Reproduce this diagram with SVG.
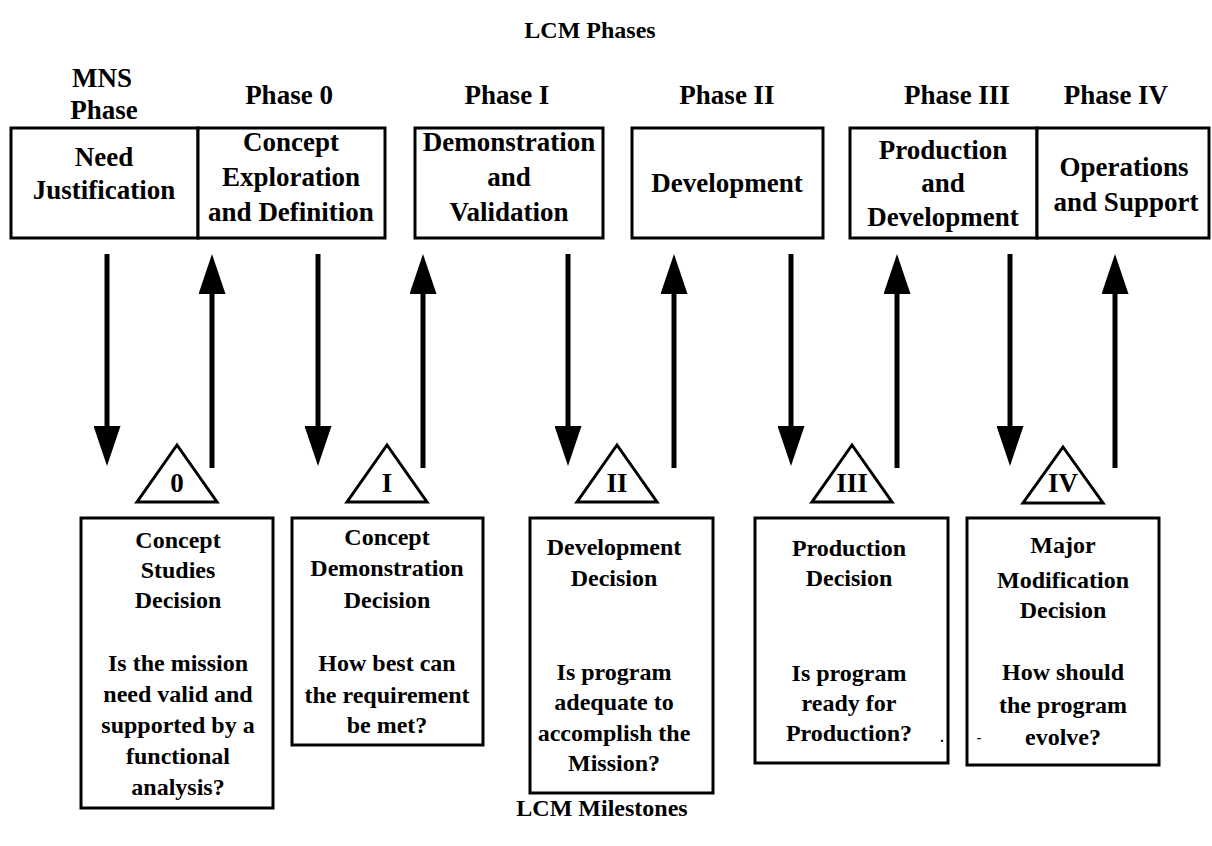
<svg xmlns="http://www.w3.org/2000/svg" width="1212" height="846" viewBox="0 0 1212 846">
<style>
text{font-family:"Liberation Serif","Times New Roman",serif;font-weight:bold;fill:#000;text-anchor:middle}
.lbl{font-size:27px}
.ttl{font-size:24px}
.sm{font-size:24px}
.num{font-size:27px}
.box{fill:#fff;stroke:#000;stroke-width:3}
.tri{fill:#fff;stroke:#000;stroke-width:3;stroke-linejoin:miter}
.ln{stroke:#000;stroke-width:5;fill:none}
</style>
<defs>
<marker id="ah" viewBox="0 0 40 27" refX="1" refY="13.5" markerWidth="40" markerHeight="27" markerUnits="userSpaceOnUse" orient="auto">
<path d="M0,0 L40,13.5 L0,27 Z" fill="#000"/>
</marker>
</defs>
<rect width="1212" height="846" fill="#fff"/>

<text class="ttl" x="590" y="38">LCM Phases</text>
<text class="ttl" x="602" y="816">LCM Milestones</text>

<g id="phase-labels">
<text class="lbl" x="102" y="87">MNS</text>
<text class="lbl" x="104" y="119">Phase</text>
<text class="lbl" x="289" y="104">Phase 0</text>
<text class="lbl" x="507" y="104">Phase I</text>
<text class="lbl" x="727" y="104">Phase II</text>
<text class="lbl" x="957" y="104">Phase III</text>
<text class="lbl" x="1116" y="104">Phase IV</text>
</g>

<g id="need-justification">
<rect class="box" x="11" y="128" width="187" height="110"/>
<text class="lbl" x="104" y="166">Need</text>
<text class="lbl" x="104" y="199">Justification</text>
</g>
<g id="concept-exploration">
<rect class="box" x="198" y="128" width="187" height="110"/>
<text class="lbl" x="291" y="151">Concept</text>
<text class="lbl" x="291" y="186">Exploration</text>
<text class="lbl" x="291" y="221">and Definition</text>
</g>
<g id="demonstration-validation">
<rect class="box" x="415" y="128" width="188" height="110"/>
<text class="lbl" x="509" y="151">Demonstration</text>
<text class="lbl" x="509" y="186">and</text>
<text class="lbl" x="509" y="221">Validation</text>
</g>
<g id="development">
<rect class="box" x="632" y="128" width="191" height="110"/>
<text class="lbl" x="727" y="192">Development</text>
</g>
<g id="production-development">
<rect class="box" x="850" y="128" width="187" height="110"/>
<text class="lbl" x="943" y="159">Production</text>
<text class="lbl" x="943" y="192">and</text>
<text class="lbl" x="943" y="226">Development</text>
</g>
<g id="operations-support">
<rect class="box" x="1037" y="128" width="172" height="110"/>
<text class="lbl" x="1124" y="176">Operations</text>
<text class="lbl" x="1126" y="211">and Support</text>
</g>

<g id="connectors">
<line class="ln" x1="107" y1="254" x2="107" y2="427" marker-end="url(#ah)"/>
<line class="ln" x1="212" y1="468" x2="212" y2="293" marker-end="url(#ah)"/>
<line class="ln" x1="318" y1="254" x2="318" y2="427" marker-end="url(#ah)"/>
<line class="ln" x1="423" y1="468" x2="423" y2="293" marker-end="url(#ah)"/>
<line class="ln" x1="568" y1="254" x2="568" y2="427" marker-end="url(#ah)"/>
<line class="ln" x1="674" y1="468" x2="674" y2="293" marker-end="url(#ah)"/>
<line class="ln" x1="791" y1="254" x2="791" y2="427" marker-end="url(#ah)"/>
<line class="ln" x1="897" y1="468" x2="897" y2="293" marker-end="url(#ah)"/>
<line class="ln" x1="1010" y1="254" x2="1010" y2="427" marker-end="url(#ah)"/>
<line class="ln" x1="1115" y1="468" x2="1115" y2="293" marker-end="url(#ah)"/>
</g>

<g id="milestone-0">
<polygon class="tri" points="177,445 217,502 137,502"/>
<text class="num" x="177" y="492">0</text>
</g>
<g id="milestone-I">
<polygon class="tri" points="387,445 427,502 347,502"/>
<text class="num" x="387" y="492">I</text>
</g>
<g id="milestone-II">
<polygon class="tri" points="617,445 657,502 577,502"/>
<text class="num" x="617" y="492">II</text>
</g>
<g id="milestone-III">
<polygon class="tri" points="852,445 892,502 812,502"/>
<text class="num" x="852" y="492">III</text>
</g>
<g id="milestone-IV">
<polygon class="tri" points="1063,447 1103,503 1023,503"/>
<text class="num" x="1063" y="492">IV</text>
</g>

<g id="concept-studies-decision">
<rect class="box" x="81" y="518" width="192" height="290"/>
<text class="sm" x="178" y="548">Concept</text>
<text class="sm" x="178" y="578">Studies</text>
<text class="sm" x="178" y="608">Decision</text>
<text class="sm" x="178" y="671">Is the mission</text>
<text class="sm" x="178" y="702">need valid and</text>
<text class="sm" x="178" y="733">supported by a</text>
<text class="sm" x="178" y="764">functional</text>
<text class="sm" x="178" y="795">analysis?</text>
</g>
<g id="concept-demonstration-decision">
<rect class="box" x="292" y="518" width="191" height="227"/>
<text class="sm" x="387" y="545">Concept</text>
<text class="sm" x="387" y="576">Demonstration</text>
<text class="sm" x="387" y="608">Decision</text>
<text class="sm" x="387" y="671">How best can</text>
<text class="sm" x="387" y="703">the requirement</text>
<text class="sm" x="387" y="733">be met?</text>
</g>
<g id="development-decision">
<rect class="box" x="530" y="518" width="183" height="275"/>
<text class="sm" x="614" y="555">Development</text>
<text class="sm" x="614" y="586">Decision</text>
<text class="sm" x="614" y="680">Is program</text>
<text class="sm" x="614" y="710">adequate to</text>
<text class="sm" x="614" y="741">accomplish the</text>
<text class="sm" x="614" y="771">Mission?</text>
</g>
<g id="production-decision">
<rect class="box" x="755" y="518" width="193" height="245"/>
<text class="sm" x="849" y="556">Production</text>
<text class="sm" x="849" y="586">Decision</text>
<text class="sm" x="849" y="681">Is program</text>
<text class="sm" x="849" y="711">ready for</text>
<text class="sm" x="849" y="741">Production?</text>
<text class="sm" x="942" y="742" style="font-size:14px">.</text>
</g>
<g id="major-modification-decision">
<rect class="box" x="967" y="518" width="192" height="247"/>
<text class="sm" x="1063" y="553">Major</text>
<text class="sm" x="1063" y="588">Modification</text>
<text class="sm" x="1063" y="618">Decision</text>
<text class="sm" x="1063" y="680">How should</text>
<text class="sm" x="1063" y="713">the program</text>
<text class="sm" x="1063" y="745">evolve?</text>
<text class="sm" x="979" y="742" style="font-size:14px">-</text>
</g>
</svg>
